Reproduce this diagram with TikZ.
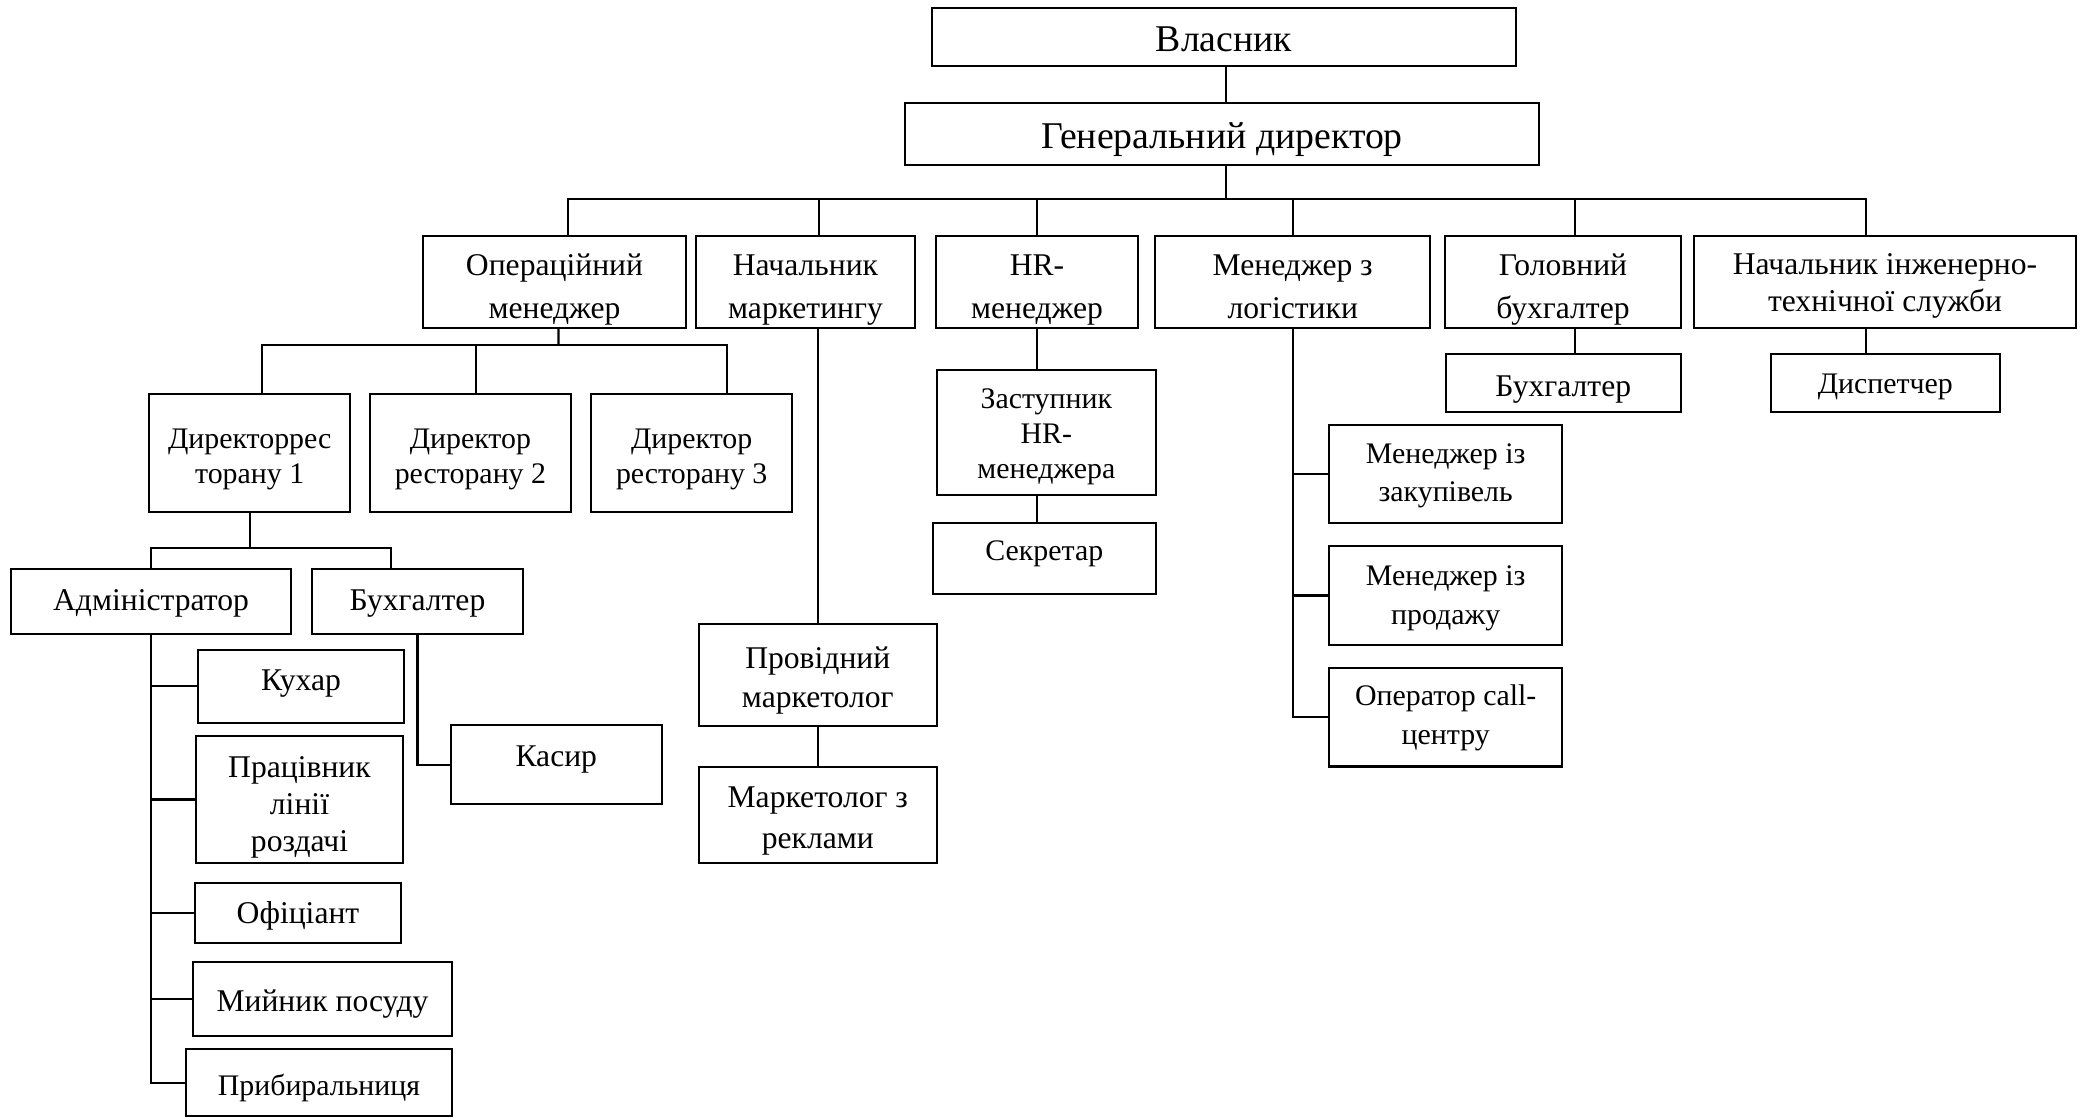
\documentclass[tikz,border=0pt]{standalone}
\usepackage{fontspec}
\setmainfont{Liberation Serif}

\begin{document}
\begin{tikzpicture}[
    x=0.02cm, y=-0.02cm, line width=1.15pt,
    post/.style={draw, align=center, inner sep=0pt,
                 font=\fontsize{18}{22}\selectfont},
    postsm/.style={post, font=\fontsize{17}{22}\selectfont},
    head/.style={post, font=\fontsize{18}{24.5}\selectfont, minimum height=1.84cm},
    textdown/.style={execute at begin node={\rule{0pt}{#1}}},
    textup/.style={execute at end node={\rule[-#1]{0pt}{#1}}}
  ]

  \fill[white] (0,0) rectangle (2080,1118);

  % top management
  \node[post, font=\fontsize{21.5}{26}\selectfont, textdown=17.2pt,
        minimum width=11.68cm, minimum height=1.16cm] (owner) at (1224,37) {Власник};
  \node[post, font=\fontsize{21.5}{26}\selectfont, textdown=20.8pt,
        minimum width=12.68cm, minimum height=1.24cm] (gendir) at (1222,134) {Генеральний директор};

  % heads of departments
  \node[head, textdown=45.3pt, minimum width=5.26cm] (opman) at (554.5,282) {Операційний\\менеджер};
  \node[head, textdown=45.3pt, minimum width=4.38cm] (mkthead) at (805.5,282) {Начальник\\маркетингу};
  \node[head, textdown=45.3pt, minimum width=4.03cm] (hrman) at (1037,282) {HR-\\менеджер};
  \node[head, textdown=41.5pt, minimum width=5.49cm] (logman) at (1292.7,282) {Менеджер з\\логістики};
  \node[head, textdown=45.3pt, minimum width=4.72cm] (chiefacc) at (1563,282) {Головний\\бухгалтер};
  \node[head, font=\fontsize{18}{21.5}\selectfont, textdown=37.8pt,
        minimum width=7.65cm] (enghead) at (1885,282) {Начальник інженерно-\\технічної служби};

  % restaurants
  \node[postsm, font=\fontsize{17}{20}\selectfont, textdown=38.1pt,
        minimum width=4.03cm, minimum height=2.36cm] (dir1) at (249.7,453.3) {Директоррес\\торану 1};
  \node[postsm, font=\fontsize{17}{20}\selectfont, textdown=38.1pt,
        minimum width=4.02cm, minimum height=2.36cm] (dir2) at (470.4,453.3) {Директор\\ресторану 2};
  \node[postsm, font=\fontsize{17}{20}\selectfont, textdown=38.1pt,
        minimum width=4.03cm, minimum height=2.36cm] (dir3) at (691.7,453.3) {Директор\\ресторану 3};

  \node[post, textdown=14pt, minimum width=5.59cm, minimum height=1.3cm] (admin) at (151,601.5) {Адміністратор};
  \node[post, textdown=14pt, minimum width=4.22cm, minimum height=1.3cm] (acc1) at (417.5,601.5) {Бухгалтер};

  % restaurant staff
  \node[post, textup=7pt, minimum width=4.12cm, minimum height=1.45cm] (cook) at (301,686.3) {Кухар};
  \node[post, font=\fontsize{18}{21}\selectfont, textdown=62.5pt,
        minimum width=4.13cm, minimum height=2.55cm] (linewk) at (299.5,799.5) {Працівник\\лінії\\роздачі};
  \node[post, textdown=15.6pt, minimum width=4.12cm, minimum height=1.2cm] (waiter) at (298,912.7) {Офіціант};
  \node[post, textdown=18pt, minimum width=5.17cm, minimum height=1.49cm] (dishw) at (322.5,998.8) {Мийник посуду};
  \node[postsm, textdown=18pt, minimum width=5.32cm, minimum height=1.33cm] (cleaner) at (319,1082.7) {Прибиральниця};
  \node[post, textup=10pt, minimum width=4.21cm, minimum height=1.58cm] (cashier) at (556.3,764.8) {Касир};

  % marketing
  \node[post, textdown=40.4pt, minimum width=4.75cm, minimum height=2.04cm] (leadmkt) at (817.8,675) {Провідний\\маркетолог};
  \node[post, font=\fontsize{18}{23}\selectfont, textdown=41.7pt,
        minimum width=4.75cm, minimum height=1.93cm] (admkt) at (817.8,814.8) {Маркетолог з\\реклами};

  % HR
  \node[postsm, font=\fontsize{17}{20}\selectfont, textdown=56.5pt,
        minimum width=4.39cm, minimum height=2.5cm] (hrdep) at (1046.3,432.5) {Заступник\\HR-\\менеджера};
  \node[postsm, textup=8.3pt, minimum width=4.47cm, minimum height=1.41cm] (secretary) at (1044.3,558.3) {Секретар};

  % logistics
  \node[postsm, textdown=35.1pt, minimum width=4.67cm, minimum height=1.97cm] (buyman) at (1445.7,474.2) {Менеджер із\\закупівель};
  \node[postsm, textdown=36.6pt, minimum width=4.67cm, minimum height=1.98cm] (salesman) at (1445.7,595.5) {Менеджер із\\продажу};
  \node[postsm, textdown=35.1pt, minimum width=4.67cm, minimum height=1.98cm] (callop) at (1445.7,717) {Оператор call-\\центру};

  % accounting and engineering
  \node[post, textdown=19.5pt, minimum width=4.71cm, minimum height=1.15cm] (acc2) at (1563.3,383) {Бухгалтер};
  \node[postsm, textdown=16pt, minimum width=4.59cm, minimum height=1.15cm] (dispatcher) at (1885.3,383) {Диспетчер};

  % connectors
  \coordinate (topbus) at (1226,199);
  \coordinate (dirbus) at (558.5,345);
  \coordinate (staffbus) at (249.7,548);

  \draw (owner.south -| topbus) -- (gendir.north -| topbus);
  \draw (gendir.south -| topbus) -- (topbus);
  \foreach \n/\dx in {opman/0.27, mkthead/0.27, hrman/0, logman/0, chiefacc/0.23, enghead/-0.39}
    \draw ([xshift=\dx cm]\n.north) |- (topbus);

  \draw ([xshift=0.08cm]opman.south) -- (dirbus);
  \foreach \n/\dx in {dir1/0.24, dir2/0.11, dir3/0.7}
    \draw ([xshift=\dx cm]\n.north) |- (dirbus);

  \draw (dir1.south) -- (staffbus);
  \draw (admin.north) |- (staffbus);
  \draw ([xshift=-0.53cm]acc1.north) |- (staffbus);

  \draw (admin.south) |- (cleaner.west);
  \foreach \n in {cook, linewk, waiter, dishw}
    \draw (admin.south |- \n.west) -- (\n.west);
  \draw (acc1.south) |- (cashier.west);

  \draw (mkthead.south -| leadmkt.north) -- (leadmkt.north);
  \draw (leadmkt.south) -- (admkt.north);

  \draw (hrman.south) -- (hrman.south |- hrdep.north);
  \draw (hrdep.south -| hrman.south) -- (secretary.north -| hrman.south);

  \draw (logman.south) |- (callop.west);
  \draw (logman.south |- buyman.west) -- (buyman.west);
  \draw (logman.south |- salesman.west) -- (salesman.west);

  \draw ([xshift=0.23cm]chiefacc.south) -- ([xshift=0.23cm]chiefacc.south |- acc2.north);
  \draw ([xshift=-0.39cm]enghead.south) -- ([xshift=-0.39cm]enghead.south |- dispatcher.north);

\end{tikzpicture}
\end{document}
